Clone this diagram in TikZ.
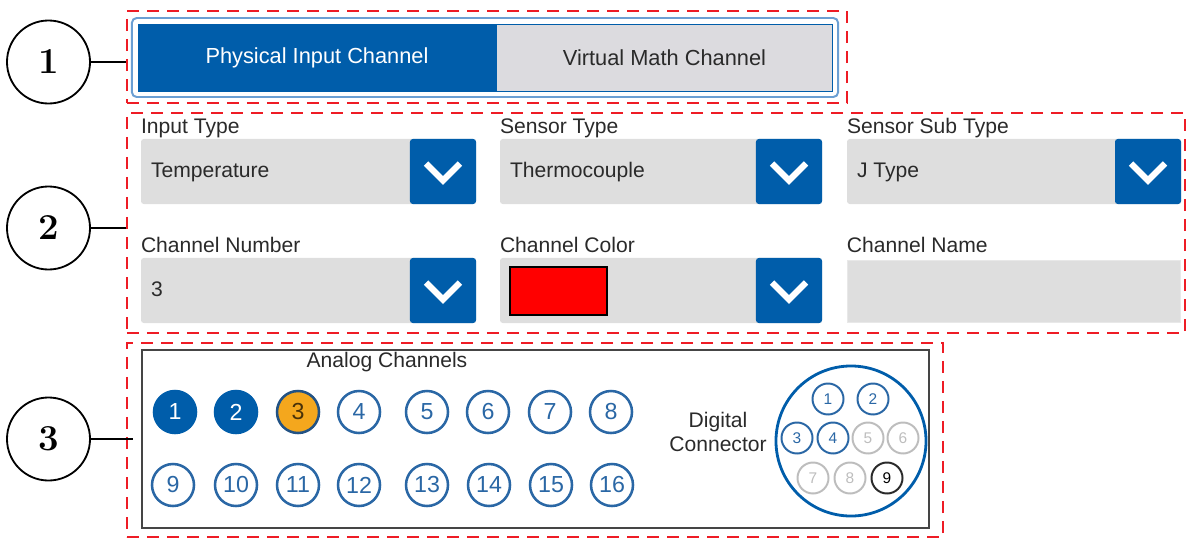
\documentclass[tikz,border=0pt]{standalone}
\usepackage{fontspec}
\usetikzlibrary{positioning}
\newfontfamily\uifont{Liberation Sans}
\definecolor{uiblue}{HTML}{005DAA}
\definecolor{pinblue}{HTML}{2A67A5}
\definecolor{fieldgrey}{HTML}{DEDEDE}
\definecolor{tabgrey}{HTML}{DCDBDF}
\definecolor{tabedge}{HTML}{6B9FD3}
\definecolor{zonered}{HTML}{EE1C25}
\definecolor{pinorange}{HTML}{F4A71D}
\definecolor{pingrey}{HTML}{BDBDBD}
\definecolor{inktext}{HTML}{2A2A2A}
\definecolor{panelline}{HTML}{454545}

\begin{document}
\begin{tikzpicture}[x=0.025cm, y=-0.025cm]
\tikzstyle{callout} = [circle, draw=black, line width=1.3pt, minimum size=2.075cm, inner sep=0pt, font=\fontsize{26}{30}\selectfont\bfseries]
\tikzstyle{leader} = [line width=1.2pt, black]
\tikzstyle{zone} = [rectangle, draw=zonered, line width=1.8pt, dash pattern=on 0.3cm off 0.2cm]
\tikzstyle{uitext} = [text=inktext, inner sep=0pt, font=\uifont\fontsize{15}{17.7}\selectfont]
\tikzstyle{tabon} = [rectangle, fill=uiblue, draw=uiblue, line width=0.6pt, minimum height=1.675cm, text=white, font=\uifont\fontsize{15.5}{18}\selectfont]
\tikzstyle{taboff} = [rectangle, fill=tabgrey, draw=uiblue, line width=0.6pt, minimum height=1.675cm, text=inktext, font=\uifont\fontsize{15.5}{18}\selectfont]
\tikzstyle{dropfield} = [rectangle, rounded corners=0.07cm, fill=fieldgrey, minimum height=1.625cm]
\tikzstyle{dropbtn} = [rectangle, rounded corners=0.07cm, fill=uiblue, minimum width=1.65cm, minimum height=1.625cm]
\tikzstyle{fieldlabel} = [uitext, text height=11pt, text depth=3pt]
\tikzstyle{fieldvalue} = [uitext, text height=11pt, text depth=3pt]
\tikzstyle{chevron} = [white, line width=4.3pt]
\tikzstyle{apinon} = [circle, fill=uiblue, draw=uiblue, line width=1.8pt, minimum size=1.05cm, inner sep=0pt, text=white, font=\uifont\fontsize{16.5}{18}\selectfont]
\tikzstyle{apinsel} = [apinon, fill=pinorange, draw=pinblue!80!black, text=black!70!pinorange]
\tikzstyle{apinoff} = [apinon, fill=white, draw=pinblue, text=pinblue]
\tikzstyle{dpinon} = [circle, draw=pinblue, line width=1.4pt, minimum size=0.775cm, inner sep=0pt, text=pinblue, font=\uifont\fontsize{11}{12}\selectfont]
\tikzstyle{dpinoff} = [dpinon, draw=pingrey, text=pingrey]
\tikzstyle{dpinlast} = [dpinon, draw=inktext, text=black]

\useasboundingbox (0,0) rectangle (1188,539);

% Red marked zones
\node (zone1) [zone, minimum width=18cm, minimum height=2.3cm] at (487,57) {};
\node (zone2) [zone, minimum width=26.45cm, minimum height=5.5cm] at (656,223) {};
\node (zone3) [zone, minimum width=20.4cm, minimum height=4.85cm] at (535,440) {};

% Channel kind switch
\node (tabframe) [rectangle, rounded corners=0.12cm, draw=tabedge, line width=1.4pt, minimum width=17.65cm, minimum height=1.975cm] at (485,57.5) {};
\node (phys) [tabon, minimum width=8.95cm] at (317,57.5) {Physical Input Channel};
\node (virt) [taboff, minimum width=8.375cm, right=0cm of phys] {Virtual Math Channel};

% Drop-down selectors
\foreach \i/\cx/\cy/\w/\lbl/\val in {1/308.5/171.5/335/Input Type/Temperature,
    2/661/171.5/322/Sensor Type/Thermocouple,
    3/1014/171.5/334/Sensor Sub Type/J Type,
    4/308.5/290.5/335/Channel Number/3,
    5/661/290.5/322/Channel Color/} {
    \node (dd\i) [dropfield, minimum width=\w*0.025cm] at (\cx,\cy) {};
    \node (btn\i) [dropbtn, anchor=east] at (dd\i.east) {};
    \draw[chevron] (btn\i.center) ++(-17,-8) -- ++(17,17) -- ++(17,-17);
    \node (lbl\i) [fieldlabel, above right=0.03cm and 0cm of dd\i.north west] {\lbl};
    \node (val\i) [fieldvalue, right=0.25cm of dd\i.west] {\val};
}
\node (swatch) [rectangle, fill=red, draw=black, line width=1.1pt, minimum width=2.425cm, minimum height=1.2cm] at (558.5,291) {};
\node (dd6) [dropfield, rounded corners=0pt, draw=fieldgrey!70!white, minimum width=8.325cm, minimum height=1.55cm] at (1013.5,291) {};
\node (lbl6) [fieldlabel, above right=0.08cm and 0cm of dd6.north west] {Channel Name};

% Channel panel
\node (panel) [rectangle, draw=panelline, line width=1.1pt, minimum width=19.675cm, minimum height=4.45cm] at (535.5,439) {};
\node (achan) [uitext] at (387,362) {Analog Channels};
\node (a1) [apinon] at (175,412) {1};
\node (a2) [apinon] at (236,412) {2};
\node (a3) [apinsel] at (298,412) {3};
\foreach \n/\x in {4/359, 5/427, 6/488, 7/550, 8/611}
    \node (a\n) [apinoff] at (\x,412) {\n};
\foreach \n/\x in {9/173, 10/236, 11/298, 12/359, 13/427, 14/489, 15/551, 16/612}
    \node (a\n) [apinoff] at (\x,485) {\n};

% Digital connector
\node (dtext) [uitext, align=center] at (718,432) {Digital\\Connector};
\node (dconn) [circle, draw=uiblue, line width=2pt, minimum size=3.75cm] at (851,441) {};
\foreach \n/\x/\y in {1/828/399, 2/873/399, 3/797/438, 4/833/438}
    \node (d\n) [dpinon] at (\x,\y) {\n};
\foreach \n/\x/\y in {5/868/438, 6/903/438, 7/813/478, 8/850/478}
    \node (d\n) [dpinoff] at (\x,\y) {\n};
\node (d9) [dpinlast] at (887,478) {9};

% Numbered callouts
\node (c1) [callout] at (48.5,62) {1};
\node (c2) [callout] at (48.5,228) {2};
\node (c3) [callout] at (48.5,439) {3};
\draw[leader] (c1) -- (c1 -| zone1.west);
\draw[leader] (c2) -- (c2 -| zone2.west);
\draw[leader, shorten >=-0.175cm] (c3) -- (c3 -| zone3.west);

\end{tikzpicture}
\end{document}
